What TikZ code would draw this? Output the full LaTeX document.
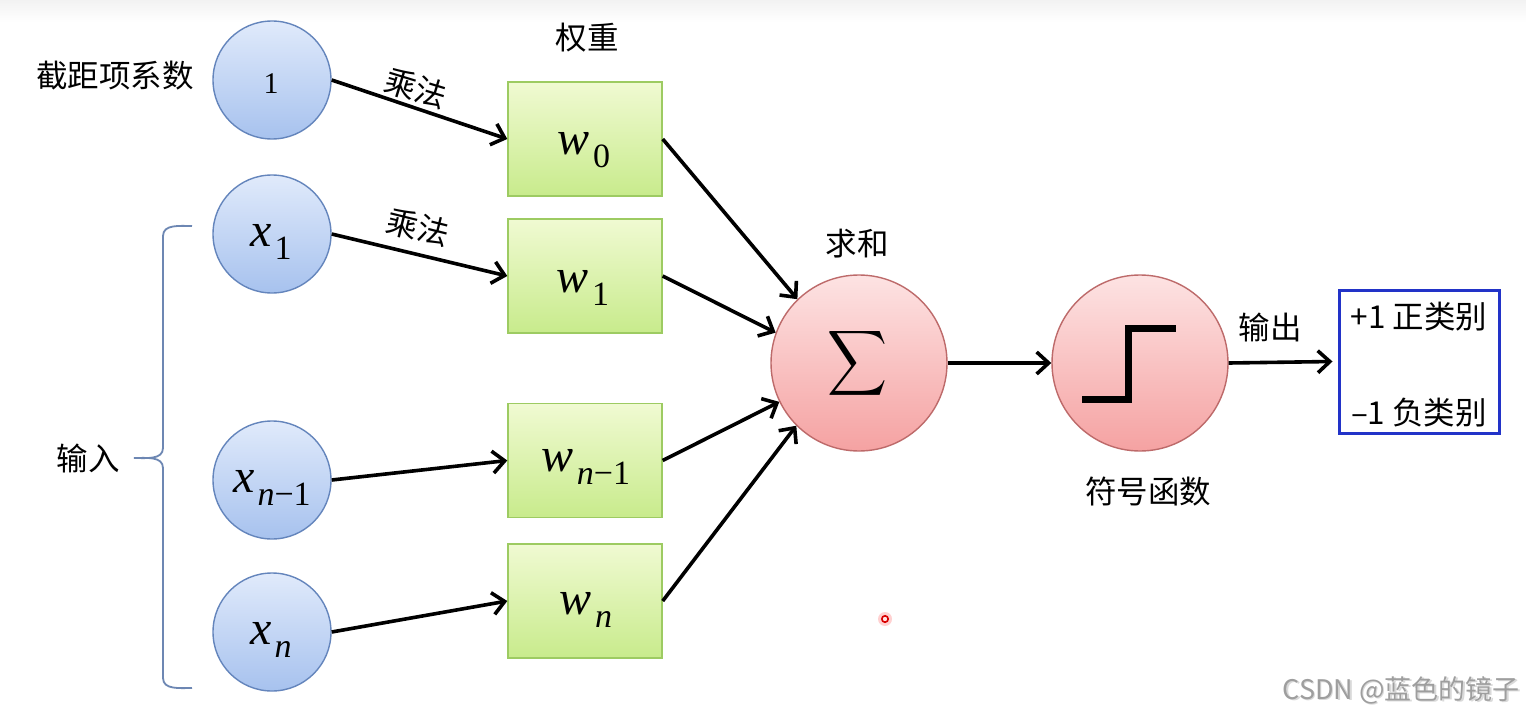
\documentclass[tikz,border=0pt]{standalone}
\usepackage{fontspec}
\usepackage{graphicx}
\setmainfont{Liberation Serif}
\newfontfamily\cjk{Noto Sans CJK SC}
\newfontfamily\mfont{Liberation Serif}
\usetikzlibrary{arrows.meta}
\definecolor{bluetop}{HTML}{E0EAFB}
\definecolor{bluebot}{HTML}{A7C2EE}
\definecolor{bluebd}{HTML}{6485BC}
\definecolor{greentop}{HTML}{F0FAD2}
\definecolor{greenbot}{HTML}{C8EB8C}
\definecolor{greenbd}{HTML}{9DCB62}
\definecolor{redtop}{HTML}{FDE3E3}
\definecolor{redbot}{HTML}{F5A2A2}
\definecolor{redbd}{HTML}{BD6A6A}
\definecolor{outbd}{HTML}{2233C8}
\definecolor{bracec}{HTML}{6D87B3}
\newcommand\mainsym[1]{{\mfont\itshape\fontsize{48}{48}\selectfont #1}}
\newcommand\subsym[1]{\raisebox{-13pt}{\mfont\fontsize{34}{34}\selectfont #1}}
\begin{document}
\begin{tikzpicture}[x=1pt,y=-1pt,
  lab/.style={font=\cjk\fontsize{31.5}{31.5}\selectfont, inner sep=0pt},
  sym/.style={inner sep=0pt},
  inp/.style={circle, minimum size=118pt, inner sep=0pt, draw=bluebd, line width=1.4pt, top color=bluetop, bottom color=bluebot},
  wbox/.style={rectangle, minimum width=154pt, minimum height=114pt, inner sep=0pt, draw=greenbd, line width=1.4pt, top color=greentop, bottom color=greenbot},
  big/.style={circle, minimum size=176pt, inner sep=0pt, draw=redbd, line width=1.4pt, top color=redtop, bottom color=redbot},
  conn/.style={line width=3.6pt, -{Straight Barb[length=12pt,width=22pt]}},
]
\useasboundingbox (0,0) rectangle (1526,717);
\fill[white] (0,0) rectangle (1526,717);
\shade[top color=black!5, bottom color=white] (0,0) rectangle (1526,22);

% input circles
\node[inp] (c0) at (272,80) {};
\node[inp] (c1) at (272,234) {};
\node[inp] (cn1) at (272,480) {};
\node[inp] (cn) at (272,632) {};
\node[sym, font=\mfont\fontsize{30}{30}\selectfont] (t0) at (271,84) {1};
\node[sym] (t1) at (271,242) {\mainsym{x}\kern3pt\subsym{1}};
\node[sym] (tn1) at (272,488) {\mainsym{x}\kern3pt\subsym{\textit{n}−1}};
\node[sym] (tn) at (271,640) {\mainsym{x}\kern3pt\subsym{\textit{n}}};

% weight boxes
\node[wbox] (w0) at (585,139) {};
\node[wbox] (w1) at (585,276) {};
\node[wbox] (wn1) at (585,460.5) {};
\node[wbox] (wn) at (585,601) {};
\node[sym] (s0) at (584,150) {\mainsym{w}\kern3pt\subsym{0}};
\node[sym] (s1) at (583,288) {\mainsym{w}\kern3pt\subsym{1}};
\node[sym] (sn1) at (586,467) {\mainsym{w}\kern3pt\subsym{\textit{n}−1}};
\node[sym] (sn) at (586,610) {\mainsym{w}\kern3pt\subsym{\textit{n}}};

% sum and step
\node[big] (sum) at (859,363) {};
\node[sym] (sig) at (857,363.5) {\resizebox*{60pt}{73pt}{$\displaystyle\sum$}};
\node[big] (step) at (1140,363) {};
\draw[line width=7pt, line join=miter] ([shift={(-58,36)}]step.center) -- ([shift={(-12,36)}]step.center) -- ([shift={(-12,-35)}]step.center) -- ([shift={(36,-35)}]step.center);

% output box
\node[draw=outbd, line width=3pt, minimum width=160pt, minimum height=143pt, inner sep=0pt] (out) at (1419,361.5) {};
\node[lab] (pos) at (1419,317) {+1 正类别};
\node[lab] (neg) at (1419,413) {–1 负类别};

% labels
\node[lab] (lb0) at (115,76) {截距项系数};
\node[lab] (lbw) at (587,38) {权重};
\node[lab, rotate=-17] (m0) at (416,88) {乘法};
\node[lab, rotate=-14] (m1) at (418,227) {乘法};
\node[lab] (lbs) at (857,244) {求和};
\node[lab] (lbf) at (1148,492) {符号函数};
\node[lab] (lbo) at (1270,327) {输出};
\node[lab] (lbi) at (88,458) {输入};

% brace
\draw[bracec, line width=1.8pt] (192,226) to[out=180,in=90] (163,236) -- (163,448) to[out=-90,in=0] (134,458);
\draw[bracec, line width=1.8pt] (134,458) to[out=0,in=90] (163,468) -- (163,678) to[out=-90,in=180] (192,688);

% connectors
\draw[conn] (c0.east) -- (w0.west);
\draw[conn] (c1.east) -- (w1.west);
\draw[conn] (cn1.east) -- (wn1.west);
\draw[conn] (cn.east) -- (wn.west);
\draw[conn] (w0.east) -- (sum.134.6);
\draw[conn] (w1.east) -- (sum.160.8);
\draw[conn] (wn1.east) -- (sum.206.9);
\draw[conn] (wn.east) -- (sum.225);
\draw[conn] (sum.east) -- (step.west);
\coordinate (outin) at ([xshift=-5pt]out.west);
\draw[conn] (step.east) -- (outin);

% cursor mark
\fill[red!18] (885,619) circle (7pt);
\draw[red!85!black, line width=1.6pt, fill=red!10] (885,619) circle (3.2pt);

% watermark
\node[font=\cjk\fontsize{27}{27}\selectfont, text=black!15, inner sep=0pt, anchor=east] (wm2) at (1521.5,691.5) {CSDN @蓝色的镜子};
\node[font=\cjk\fontsize{27}{27}\selectfont, text=black!38, inner sep=0pt, anchor=east] (wm) at (1520,690) {CSDN @蓝色的镜子};
\end{tikzpicture}
\end{document}
